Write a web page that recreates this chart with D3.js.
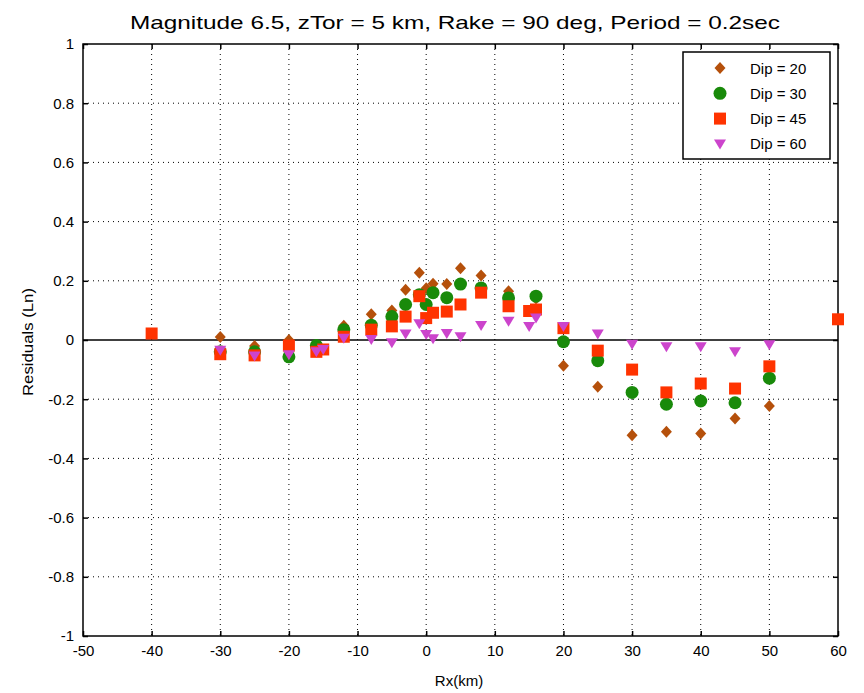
<!DOCTYPE html>
<html lang="en">
<head>
  <meta charset="UTF-8">
  <title>Residuals vs Rx</title>
  <script src="https://d3js.org/d3.v7.min.js"></script>
  <style>
    body { margin: 0; background: #fff; }
    svg { display: block; }
    text { font-family: "Liberation Sans Narrow", "Liberation Sans", Arial, sans-serif; fill: #000; }
  </style>
</head>
<body>
  <svg id="chart"></svg>
  <script>
    // Data
    const dip20X = [-30, -25, -20, -12, -8, -5, -3, -1, 0, 1, 3, 5, 8, 12, 16, 20, 25, 30, 35, 40, 45, 50];
    const dip20Y = [0.01, -0.02, 0.0, 0.048, 0.087, 0.10, 0.17, 0.227, 0.175, 0.19, 0.189, 0.242, 0.218, 0.165, 0.14, -0.087, -0.158, -0.322, -0.31, -0.316, -0.265, -0.223];

    const dip30X = [-30, -25, -20, -16, -12, -8, -5, -3, -1, 0, 1, 3, 5, 8, 12, 16, 20, 25, 30, 35, 40, 45, 50];
    const dip30Y = [-0.04, -0.04, -0.057, -0.019, 0.035, 0.05, 0.079, 0.12, 0.153, 0.12, 0.16, 0.143, 0.189, 0.176, 0.142, 0.148, -0.006, -0.07, -0.177, -0.217, -0.206, -0.212, -0.129];

    const dip45X = [-40, -30, -25, -20, -16, -15, -12, -8, -5, -3, -1, 0, 1, 3, 5, 8, 12, 15, 16, 20, 25, 30, 35, 40, 45, 50, 60];
    const dip45Y = [0.022, -0.048, -0.052, -0.019, -0.04, -0.032, 0.011, 0.035, 0.046, 0.079, 0.148, 0.074, 0.092, 0.096, 0.12, 0.16, 0.114, 0.098, 0.103, 0.04, -0.036, -0.1, -0.177, -0.147, -0.164, -0.089, 0.07];

    const dip60X = [-30, -25, -20, -16, -15, -12, -8, -5, -3, -1, 0, 1, 3, 5, 8, 12, 15, 16, 20, 25, 30, 35, 40, 45, 50];
    const dip60Y = [-0.035, -0.054, -0.05, -0.04, -0.032, 0.006, 0.002, -0.009, 0.02, 0.055, 0.019, 0.004, 0.022, 0.011, 0.049, 0.063, 0.046, 0.074, 0.046, 0.02, -0.014, -0.023, -0.023, -0.04, -0.016];

    const seriesNames = ["Dip = 20", "Dip = 30", "Dip = 45", "Dip = 60"];
    const xTicks = [-50, -40, -30, -20, -10, 0, 10, 20, 30, 40, 50, 60];
    const yTicks = [-1, -0.8, -0.6, -0.4, -0.2, 0, 0.2, 0.4, 0.6, 0.8, 1];

    const width = 864, height = 693;
    const margin = { top: 44, right: 26, bottom: 57, left: 83 };
    const innerW = width - margin.left - margin.right;
    const innerH = height - margin.top - margin.bottom;

    const svg = d3.select("#chart").attr("width", width).attr("height", height);
    const g = svg.append("g").attr("transform", `translate(${margin.left},${margin.top})`);

    const x = d3.scaleLinear().domain([-50, 60]).range([0, innerW]);
    const y = d3.scaleLinear().domain([-1, 1]).range([innerH, 0]);

    // dotted grid
    g.append("g").selectAll("line")
      .data(xTicks.filter(d => d > -50 && d < 60))
      .join("line")
      .attr("x1", d => x(d)).attr("x2", d => x(d))
      .attr("y1", 0).attr("y2", innerH)
      .attr("stroke", "#000").attr("stroke-width", 1)
      .attr("stroke-dasharray", "1,4");
    g.append("g").selectAll("line")
      .data(yTicks.filter(d => d > -1 && d < 1 && d !== 0))
      .join("line")
      .attr("x1", 0).attr("x2", innerW)
      .attr("y1", d => y(d)).attr("y2", d => y(d))
      .attr("stroke", "#000").attr("stroke-width", 1)
      .attr("stroke-dasharray", "1,4");

    // zero line
    g.append("line")
      .attr("x1", 0).attr("x2", innerW)
      .attr("y1", y(0)).attr("y2", y(0))
      .attr("stroke", "#000").attr("stroke-width", 1.5);

    // axes (inward ticks, matlab style)
    const tickLen = 5;
    const xAxis = g.append("g").attr("transform", `translate(0,${innerH})`)
      .call(d3.axisBottom(x).tickValues(xTicks).tickSizeInner(-tickLen).tickSizeOuter(0).tickPadding(9)
        .tickFormat(d => String(d)));
    const yAxis = g.append("g")
      .call(d3.axisLeft(y).tickValues(yTicks).tickSizeInner(-tickLen).tickSizeOuter(0).tickPadding(9)
        .tickFormat(d => String(d)));
    g.append("g")
      .call(d3.axisTop(x).tickValues(xTicks).tickSizeInner(-tickLen).tickSizeOuter(0).tickFormat(""));
    g.append("g").attr("transform", `translate(${innerW},0)`)
      .call(d3.axisRight(y).tickValues(yTicks).tickSizeInner(-tickLen).tickSizeOuter(0).tickFormat(""));
    g.selectAll(".domain").remove();
    g.selectAll(".tick line").attr("stroke", "#000").attr("stroke-width", 1.5);
    xAxis.selectAll("text").style("font-size", "15px").attr("font-family", null);
    yAxis.selectAll("text").style("font-size", "15px").attr("font-family", null);

    // box
    g.append("rect")
      .attr("width", innerW).attr("height", innerH)
      .attr("fill", "none").attr("stroke", "#000").attr("stroke-width", 1.5);

    // marker shapes
    const shapes = [
      { color: "#b5500b", path: "M0,-6L5.5,0L0,6L-5.5,0Z" },
      { color: "#198a0a", path: d3.arc()({ innerRadius: 0, outerRadius: 6.5, startAngle: 0, endAngle: 2 * Math.PI }) },
      { color: "#ff3300", path: "M-6,-6H6V6H-6Z" },
      { color: "#cc44cc", path: "M-6,-4.5H6L0,5.5Z" }
    ];
    const series = [
      dip20X.map((d, i) => [d, dip20Y[i]]),
      dip30X.map((d, i) => [d, dip30Y[i]]),
      dip45X.map((d, i) => [d, dip45Y[i]]),
      dip60X.map((d, i) => [d, dip60Y[i]])
    ];

    series.forEach((pts, k) => {
      g.append("g").selectAll("path")
        .data(pts)
        .join("path")
        .attr("transform", d => `translate(${x(d[0])},${y(d[1])})`)
        .attr("d", shapes[k].path)
        .attr("fill", shapes[k].color);
    });

    // legend
    const lg = svg.append("g").attr("transform", "translate(683,52)");
    lg.append("rect").attr("width", 147).attr("height", 107)
      .attr("fill", "#fff").attr("stroke", "#000").attr("stroke-width", 1.5);
    seriesNames.forEach((name, k) => {
      const cy = 16 + k * 25.3;
      lg.append("path").attr("transform", `translate(37,${cy})`)
        .attr("d", shapes[k].path).attr("fill", shapes[k].color);
      lg.append("text").attr("x", 67).attr("y", cy + 5.5)
        .style("font-size", "15px").text(name);
    });

    // title and axis labels
    svg.append("text").attr("x", 455).attr("y", 29).attr("text-anchor", "middle")
      .attr("textLength", 650).attr("lengthAdjust", "spacingAndGlyphs")
      .style("font-size", "19px").text("Magnitude 6.5, zTor = 5 km, Rake = 90 deg, Period = 0.2sec");
    svg.append("text").attr("x", 459).attr("y", 686).attr("text-anchor", "middle")
      .style("font-size", "15px").text("Rx(km)");
    svg.append("text").attr("transform", "translate(33,342) rotate(-90)").attr("text-anchor", "middle")
      .attr("textLength", 108).attr("lengthAdjust", "spacingAndGlyphs")
      .style("font-size", "14px").text("Residuals (Ln)");
  </script>
</body>
</html>
